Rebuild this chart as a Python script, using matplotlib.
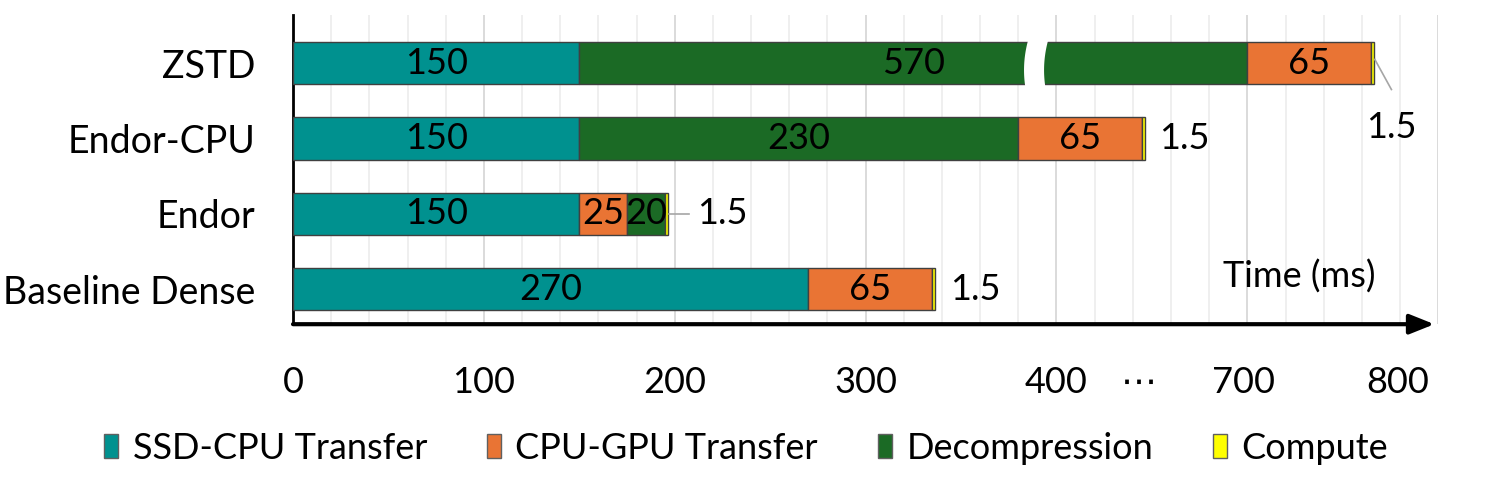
import numpy as np
import matplotlib
matplotlib.use("Agg")
import matplotlib.pyplot as plt
from matplotlib.patches import Polygon

plt.rcParams['font.family'] = ['Lato', 'DejaVu Sans']

# datos
systems = ["Baseline Dense", "Endor", "Endor-CPU", "ZSTD"]
ssd_cpu = [270, 150, 150, 150]
cpu_gpu = [65, 25, 65, 65]
decomp = [0, 20, 230, 570]
compute = [1.5, 1.5, 1.5, 1.5]
series_names = ["SSD-CPU Transfer", "CPU-GPU Transfer", "Decompression", "Compute"]
colores = ["#00918F", "#E97434", "#1B6A25", "#FFFF00"]
# orden de las etapas en cada barra (0 ssd, 1 cpu-gpu, 2 decompresion, 3 compute)
orden = [[0, 1, 2, 3], [0, 1, 2, 3], [0, 2, 1, 3], [0, 2, 1, 3]]

# el eje esta cortado en la barra de ZSTD
cut = 220
tick_pos = [0, 100, 200, 300, 400, 443, 498, 579]
tick_lab = ["0", "100", "200", "300", "400", "\u22ef", "700", "800"]

fig = plt.figure(figsize=(14.95, 4.98), dpi=100)
ax = fig.add_axes([0.196, 0.349, 0.766, 0.621])

y = np.arange(len(systems))
segs = [ssd_cpu, cpu_gpu, decomp, compute]
bar_h = 0.56
ends = []
for i in range(len(systems)):
    left = 0.0
    for k in orden[i]:
        w = segs[k][i]
        if w == 0:
            continue
        if k == 2 and systems[i] == "ZSTD":
            w = w - cut
        ax.barh(y[i], w, left=left, height=bar_h, color=colores[k],
                edgecolor="#404040", linewidth=1, zorder=3)
        if k != 3:
            ax.text(left + w / 2, y[i], str(segs[k][i]),
                    ha="center", va="center", fontsize=26, zorder=5)
        left += w
    ends.append(left)

# etiquetas del compute (1.5)
ax.text(ends[0] + 8, y[0], "1.5", ha="left", va="center", fontsize=26)
ax.plot([ends[1] + 0.5, ends[1] + 11], [y[1], y[1]], color="#a6a6a6", lw=1.2, zorder=4)
ax.text(ends[1] + 15, y[1], "1.5", ha="left", va="center", fontsize=26)
ax.text(ends[2] + 7, y[2], "1.5", ha="left", va="center", fontsize=26)
ax.plot([ends[3] + 0.3, ends[3] + 9], [y[3] + 0.05, y[3] - 0.35], color="#a6a6a6", lw=1.2, zorder=4)
ax.text(ends[3] + 9, y[3] - 0.85, "1.5", ha="center", va="center", fontsize=26)

# corte en la barra de ZSTD
s = np.linspace(-1, 1, 30)
yy = y[3] + s * (bar_h / 2 + 0.03)
xl = 383.0 + 1.3 * (s + 0.3) ** 2
xr = 393.5 + 1.3 * (s + 0.3) ** 2
poly = np.vstack([np.column_stack([xl, yy]), np.column_stack([xr[::-1], yy[::-1]])])
ax.add_patch(Polygon(poly, closed=True, facecolor="white", edgecolor="none", zorder=4))

ax.set_xlim(0, 600)
ax.set_ylim(-0.465, 3.64)
ax.set_yticks(y)
ax.set_yticklabels(systems, fontsize=27)
ax.set_xticks(tick_pos)
ax.set_xticklabels(tick_lab, fontsize=26)
ax.tick_params(axis="y", length=0, pad=27)
ax.tick_params(axis="x", length=0, pad=30)

# rejilla
for g in range(20, 601, 20):
    c = "#d4d4d4" if g % 100 == 0 else "#ececec"
    ax.axvline(g, color=c, lw=1.2, zorder=1)

for sp in ["top", "right", "bottom"]:
    ax.spines[sp].set_visible(False)
ax.spines["left"].set_linewidth(2)
ax.annotate("", xy=(598, -0.465), xytext=(0, -0.465), xycoords="data",
            arrowprops=dict(arrowstyle="-|>,head_length=1.5,head_width=0.6",
                            color="black", lw=3, shrinkA=0, shrinkB=0),
            annotation_clip=False, zorder=6)

ax.text(527, 0.17, "Time (ms)", ha="center", va="center", fontsize=26)

handles = [plt.Rectangle((0, 0), 1, 1, facecolor=colores[k], edgecolor="#606060") for k in range(4)]
fig.legend(handles, series_names, loc="center", bbox_to_anchor=(0.499, 0.1), ncol=4,
           frameon=False, fontsize=26, handlelength=0.4, handleheight=0.65,
           handletextpad=0.4, columnspacing=1.65)

fig.savefig("out.png", dpi=100)
